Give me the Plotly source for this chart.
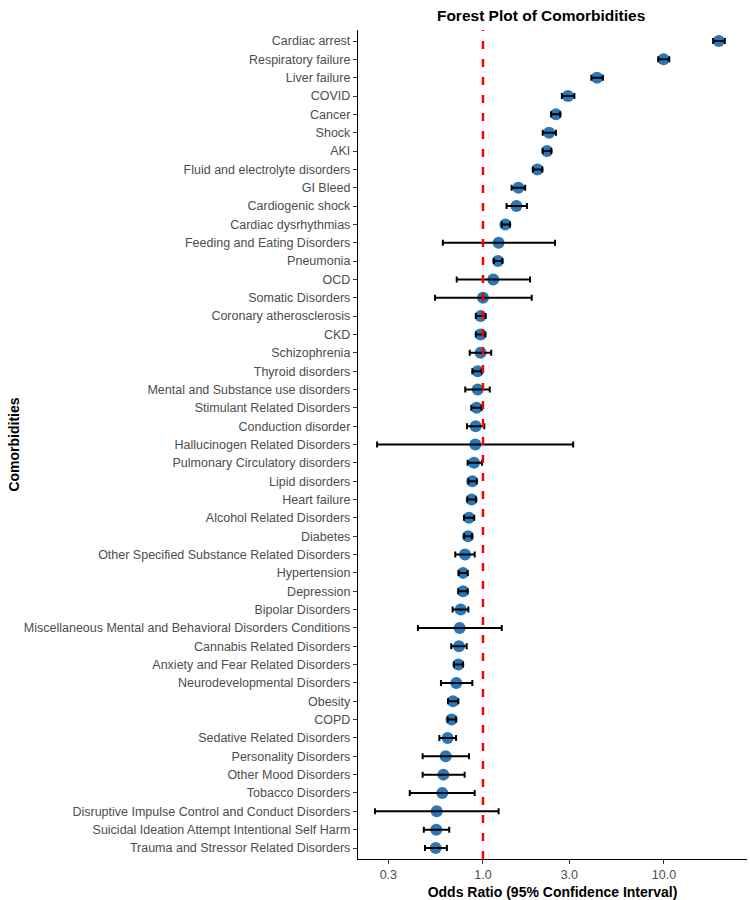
import plotly.graph_objects as go

categories = [
    "Cardiac arrest", "Respiratory failure", "Liver failure", "COVID", "Cancer",
    "Shock", "AKI", "Fluid and electrolyte disorders", "GI Bleed", "Cardiogenic shock",
    "Cardiac dysrhythmias", "Feeding and Eating Disorders", "Pneumonia", "OCD",
    "Somatic Disorders", "Coronary atherosclerosis", "CKD", "Schizophrenia",
    "Thyroid disorders", "Mental and Substance use disorders", "Stimulant Related Disorders",
    "Conduction disorder", "Hallucinogen Related Disorders", "Pulmonary Circulatory disorders",
    "Lipid disorders", "Heart failure", "Alcohol Related Disorders", "Diabetes",
    "Other Specified Substance Related Disorders", "Hypertension", "Depression",
    "Bipolar Disorders", "Miscellaneous Mental and Behavioral Disorders Conditions",
    "Cannabis Related Disorders", "Anxiety and Fear Related Disorders",
    "Neurodevelopmental Disorders", "Obesity", "COPD", "Sedative Related Disorders",
    "Personality Disorders", "Other Mood Disorders", "Tobacco Disorders",
    "Disruptive Impulse Control and Conduct Disorders",
    "Suicidal Ideation Attempt Intentional Self Harm",
    "Trauma and Stressor Related Disorders",
]

odds_ratio = [
    20.1, 9.96, 4.27, 2.95, 2.53, 2.32, 2.26, 2.00, 1.57, 1.53,
    1.33, 1.22, 1.21, 1.14, 1.00, 0.97, 0.97, 0.97, 0.935, 0.935,
    0.923, 0.911, 0.907, 0.892, 0.873, 0.866, 0.837, 0.827, 0.796, 0.776,
    0.776, 0.753, 0.743, 0.737, 0.731, 0.712, 0.683, 0.671, 0.638, 0.622,
    0.604, 0.596, 0.555, 0.552, 0.548,
]

ci_lower = [
    18.7, 9.3, 3.97, 2.73, 2.38, 2.14, 2.14, 1.89, 1.44, 1.35,
    1.27, 0.60, 1.15, 0.716, 0.543, 0.914, 0.914, 0.845, 0.873, 0.798,
    0.862, 0.816, 0.26, 0.823, 0.83, 0.819, 0.785, 0.788, 0.703, 0.734,
    0.73, 0.680, 0.437, 0.668, 0.692, 0.586, 0.641, 0.638, 0.574, 0.464,
    0.464, 0.394, 0.253, 0.471, 0.478,
]

ci_upper = [
    21.7, 10.7, 4.60, 3.20, 2.67, 2.53, 2.38, 2.13, 1.71, 1.75,
    1.41, 2.50, 1.28, 1.82, 1.86, 1.035, 1.03, 1.11, 0.984, 1.09,
    0.984, 1.017, 3.15, 0.987, 0.923, 0.914, 0.895, 0.869, 0.90, 0.823,
    0.823, 0.830, 1.27, 0.813, 0.776, 0.873, 0.731, 0.71, 0.71, 0.837,
    0.792, 0.90, 1.22, 0.651, 0.632,
]

reference_or = 1.0

x_ticks = [0.3, 1.0, 3.0, 10.0]
x_tick_labels = ["0.3", "1.0", "3.0", "10.0"]

err_plus = [u - o for u, o in zip(ci_upper, odds_ratio)]
err_minus = [o - l for o, l in zip(odds_ratio, ci_lower)]

FONT = "Liberation Sans, Arial, sans-serif"

fig = go.Figure()

# points
fig.add_trace(go.Scatter(
    x=odds_ratio, y=categories, mode="markers",
    marker=dict(color="#2878b8", size=12, line=dict(width=0)),
    showlegend=False, hoverinfo="skip",
))

# reference line (on overlay axis spanning full panel height)
fig.add_trace(go.Scatter(
    x=[reference_or, reference_or], y=[0, 1], yaxis="y2", mode="lines",
    line=dict(color="red", width=2.5, dash="8px,10px"),
    showlegend=False, hoverinfo="skip",
))

# error bars drawn on top
fig.add_trace(go.Scatter(
    x=odds_ratio, y=categories, mode="markers",
    marker=dict(color="rgba(0,0,0,0)", size=1),
    error_x=dict(type="data", symmetric=False, array=err_plus, arrayminus=err_minus,
                 color="black", thickness=2, width=3),
    showlegend=False,
))

fig.update_layout(
    width=750, height=900,
    margin=dict(l=358, r=3, t=30, b=41),
    plot_bgcolor="white", paper_bgcolor="white",
    font=dict(family=FONT, color="#4d4d4d", size=13),
    title=dict(text="<b>Forest Plot of Comorbidities</b>", x=0.7215, xanchor="center",
               y=0.983, yanchor="middle", font=dict(size=15.5, color="black", family=FONT)),
    xaxis=dict(
        type="log", range=[-0.6906, 1.459],
        tickvals=x_ticks, ticktext=x_tick_labels,
        showgrid=False, zeroline=False,
        showline=True, linecolor="black", linewidth=1.3,
        ticks="outside", ticklen=4, tickcolor="#333333", tickwidth=1,
        tickfont=dict(size=12.5, color="#4d4d4d"),
        title=dict(text="<b>Odds Ratio (95% Confidence Interval)</b>",
                   font=dict(size=14, color="black"), standoff=6),
    ),
    yaxis=dict(
        type="category", categoryorder="array", categoryarray=categories,
        range=[44.6, -0.6],
        showgrid=False, zeroline=False,
        showline=True, linecolor="black", linewidth=1.3,
        ticks="outside", ticklen=4, tickcolor="#333333", tickwidth=1,
        tickfont=dict(size=12.5, color="#4d4d4d"),
        title=dict(text="<b>Comorbidities</b>", font=dict(size=14, color="black"), standoff=0),
    ),
    yaxis2=dict(
        overlaying="y", range=[0, 1], visible=False, showgrid=False, zeroline=False,
    ),
)

fig.write_html("out.html")
